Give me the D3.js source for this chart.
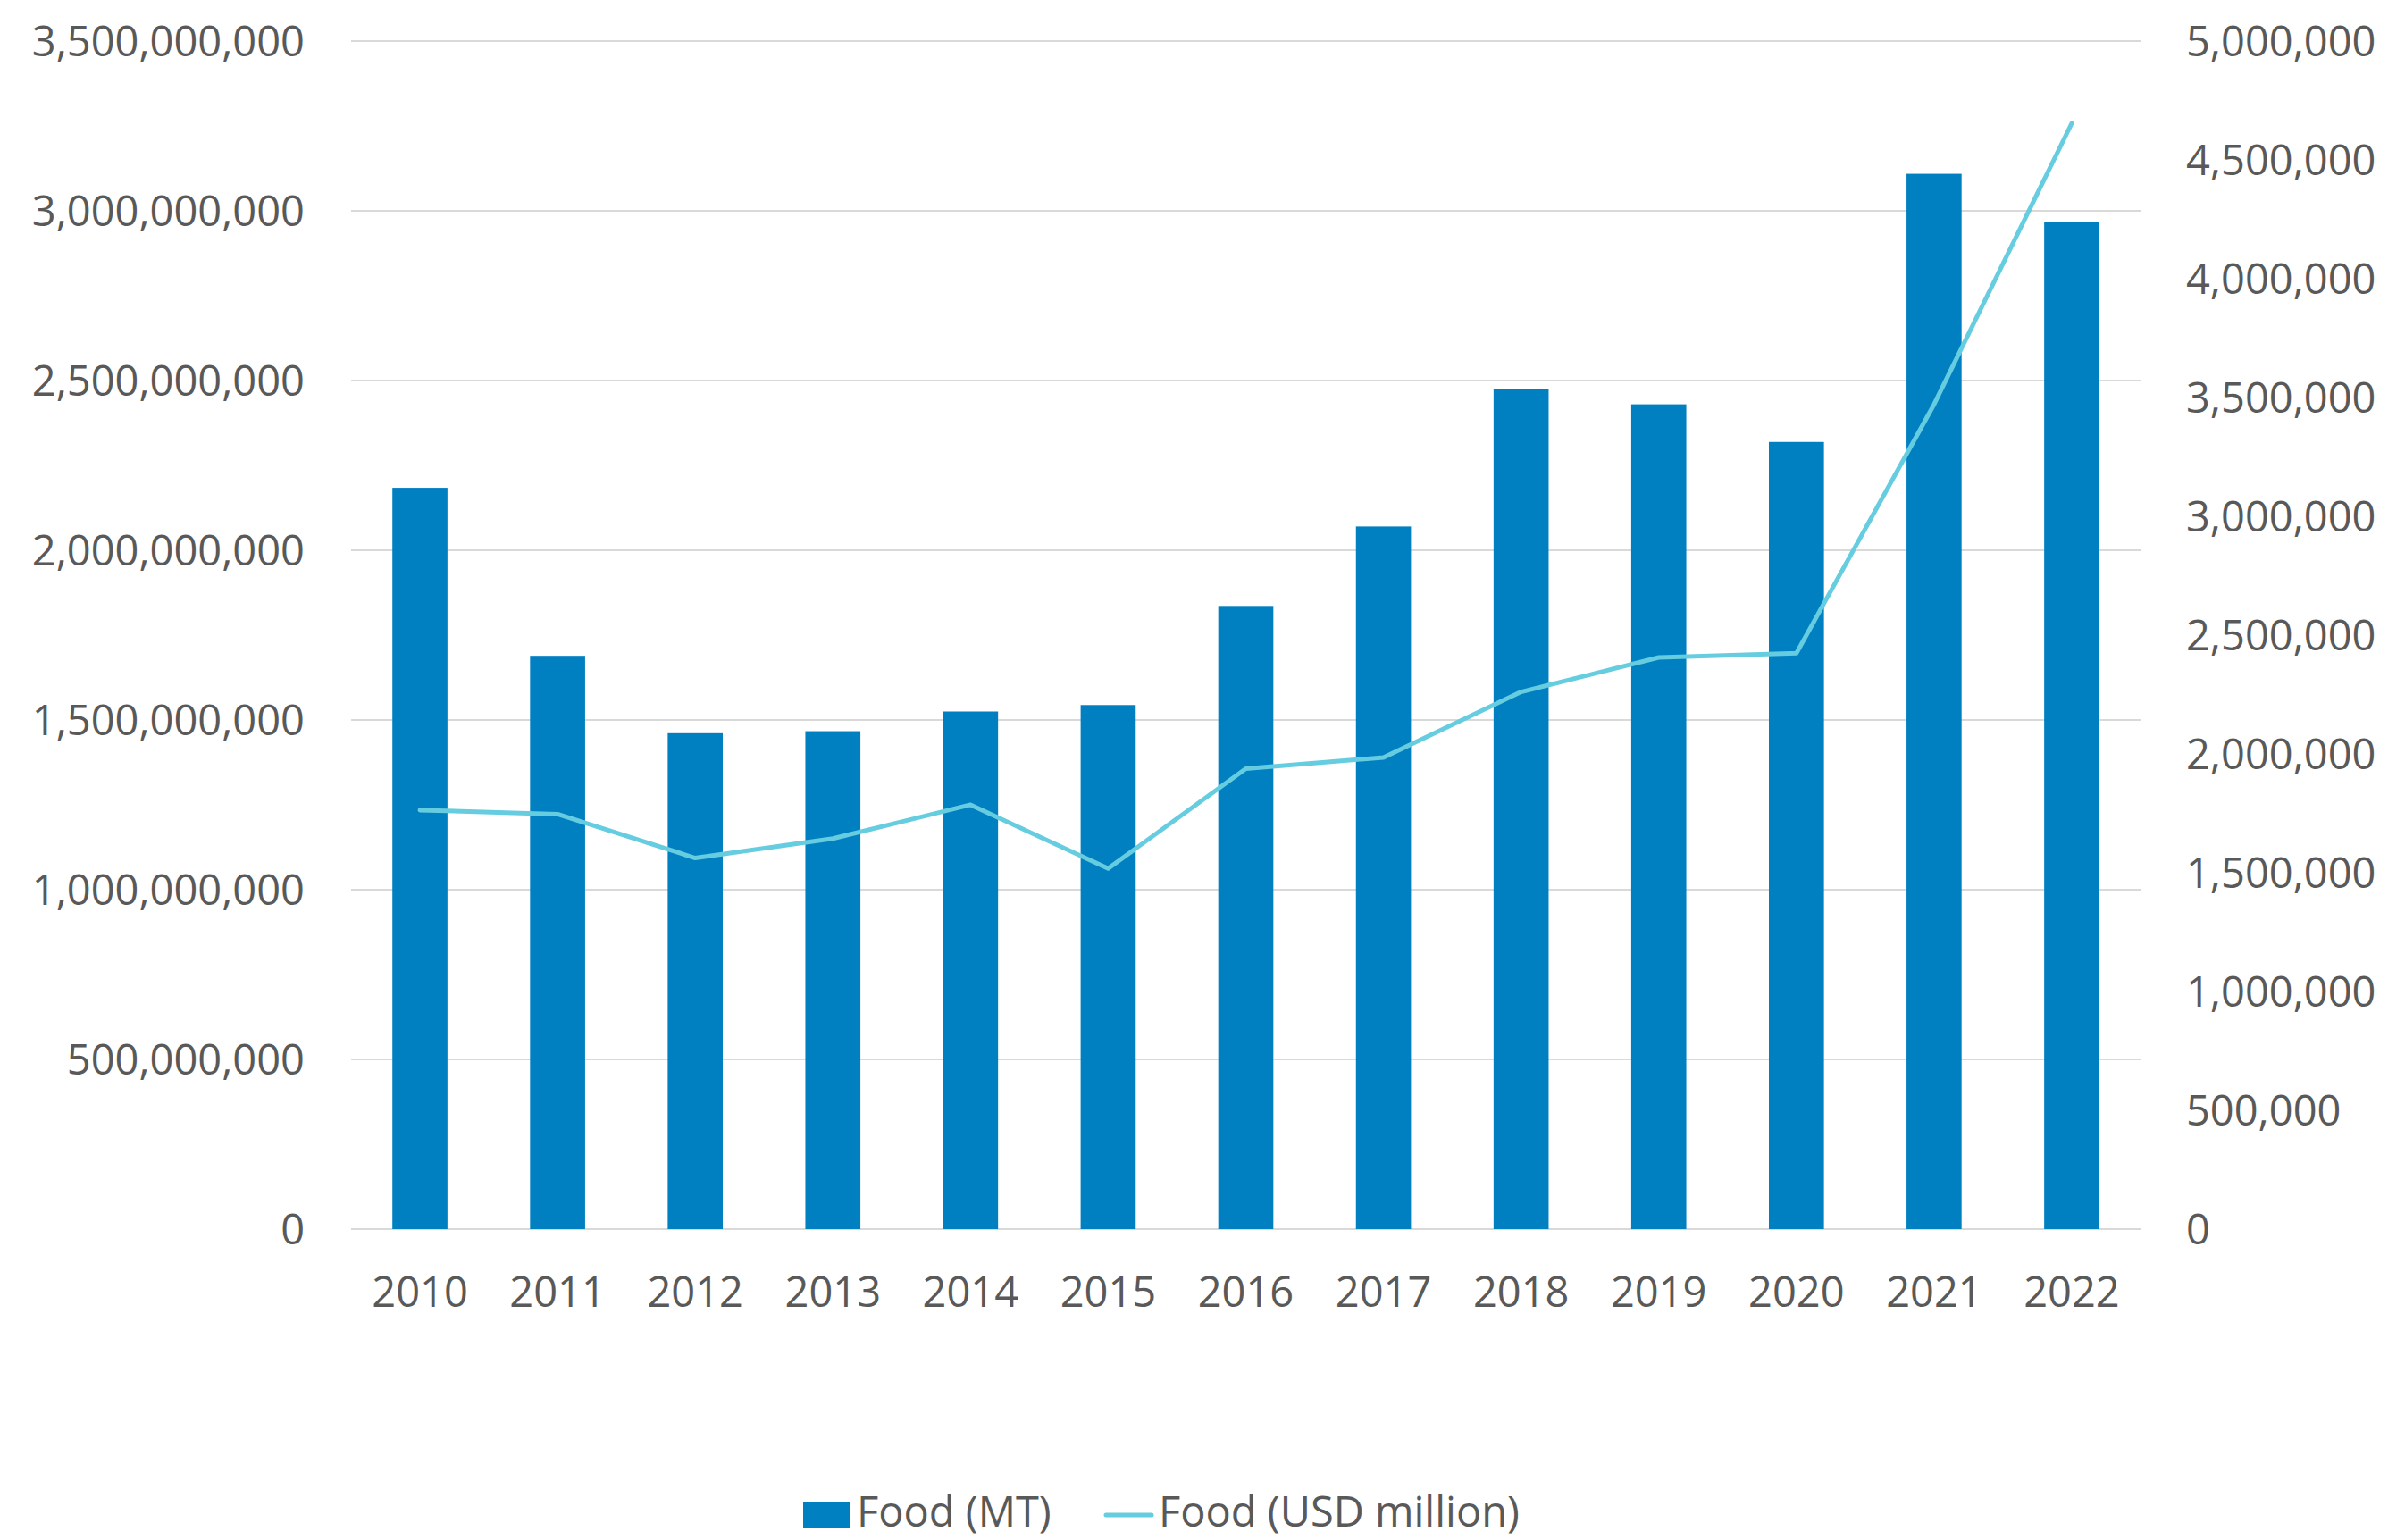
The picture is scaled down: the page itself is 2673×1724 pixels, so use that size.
<!DOCTYPE html>
<html>
<head>
<meta charset="utf-8">
<script src="https://cdn.jsdelivr.net/npm/d3@7"></script>
<style>
  html, body { margin: 0; padding: 0; background: #ffffff; }
  svg { display: block; }
  text { font-family: "Open Sans", "Noto Sans", sans-serif; fill: #595959; }
</style>
</head>
<body>
<svg id="chart" width="2673" height="1724"></svg>
<script>
const years = ["2010","2011","2012","2013","2014","2015","2016","2017","2018","2019","2020","2021","2022"];
const foodMT = [2184000000, 1689000000, 1461000000, 1467000000, 1525000000, 1544000000, 1836000000, 2070000000, 2474000000, 2430000000, 2319000000, 3109000000, 2967000000];
const foodUSD = [1763600, 1746600, 1562000, 1643600, 1786000, 1518000, 1937600, 1985000, 2261000, 2406000, 2424000, 3471000, 4654000];
const leftTicks = [0, 500000000, 1000000000, 1500000000, 2000000000, 2500000000, 3000000000, 3500000000];
const rightTicks = [0, 500000, 1000000, 1500000, 2000000, 2500000, 3000000, 3500000, 4000000, 4500000, 5000000];
const seriesNames = ["Food (MT)", "Food (USD million)"];

(function () {
const barColor = "#007fc1";
const lineColor = "#66cde0";
const gridColor = "#d9d9d9";
const fontSize = 47;

const svg = d3.select("#chart");
const plotLeft = 393, plotRight = 2396, plotTop = 46, plotBottom = 1376;

const x = d3.scaleBand().domain(years).range([plotLeft, plotRight]).paddingInner(0.6).paddingOuter(0.3);
const yL = d3.scaleLinear().domain([0, 3500000000]).range([plotBottom, plotTop]);
const yR = d3.scaleLinear().domain([0, 5000000]).range([plotBottom, plotTop]);
const fmt = d3.format(",");

// gridlines
svg.append("g").selectAll("line").data(leftTicks).join("line")
  .attr("x1", plotLeft).attr("x2", plotRight)
  .attr("y1", d => yL(d)).attr("y2", d => yL(d))
  .attr("stroke", gridColor).attr("stroke-width", 2);

// left axis labels
const axL = d3.axisLeft(yL).tickValues(leftTicks).tickFormat(fmt).tickSize(0).tickPadding(0);
const gL = svg.append("g").attr("transform", "translate(341,0)").call(axL);
gL.select(".domain").remove();
gL.selectAll("text").attr("font-size", fontSize).attr("fill", "#595959")
  .attr("font-family", "'Open Sans', sans-serif").attr("x", 0).attr("dy", "0.35em");

// right axis labels
const axR = d3.axisRight(yR).tickValues(rightTicks).tickFormat(fmt).tickSize(0).tickPadding(0);
const gR = svg.append("g").attr("transform", "translate(2447,0)").call(axR);
gR.select(".domain").remove();
gR.selectAll("text").attr("font-size", fontSize).attr("fill", "#595959")
  .attr("font-family", "'Open Sans', sans-serif").attr("x", 0).attr("dy", "0.35em");

// bars
svg.append("g").selectAll("rect").data(foodMT).join("rect")
  .attr("x", (d, i) => x(years[i]))
  .attr("width", x.bandwidth())
  .attr("y", d => yL(d))
  .attr("height", d => yL(0) - yL(d))
  .attr("fill", barColor);

// x axis labels
const axX = d3.axisBottom(x).tickSize(0).tickPadding(0);
const gX = svg.append("g").attr("transform", "translate(0,1463)").call(axX);
gX.select(".domain").remove();
gX.selectAll("text").attr("font-size", fontSize).attr("fill", "#595959")
  .attr("font-family", "'Open Sans', sans-serif").attr("y", 0).attr("dy", 0);

// line
const line = d3.line()
  .x((d, i) => x(years[i]) + x.bandwidth() / 2)
  .y(d => yR(d));
svg.append("path").datum(foodUSD)
  .attr("d", line)
  .attr("fill", "none")
  .attr("stroke", lineColor)
  .attr("stroke-width", 5)
  .attr("stroke-linejoin", "round")
  .attr("stroke-linecap", "round");

// legend
const lg = svg.append("g");
lg.append("rect").attr("x", 899).attr("y", 1681).attr("width", 52).attr("height", 30).attr("fill", barColor);
lg.append("text").attr("x", 959).attr("y", 1709).attr("font-size", fontSize).text(seriesNames[0]);
lg.append("line").attr("x1", 1238).attr("x2", 1289).attr("y1", 1696).attr("y2", 1696)
  .attr("stroke", lineColor).attr("stroke-width", 5).attr("stroke-linecap", "round");
lg.append("text").attr("x", 1297).attr("y", 1709).attr("font-size", fontSize).text(seriesNames[1]);
})();
</script>
</body>
</html>
